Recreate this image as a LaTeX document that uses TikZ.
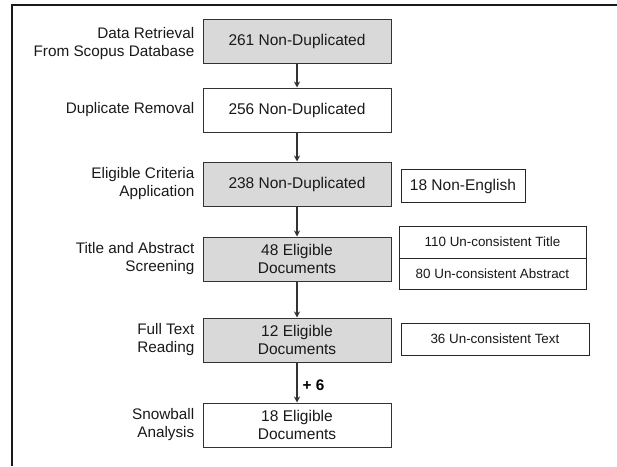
\documentclass[tikz,border=0pt]{standalone}
\usepackage{fontspec}
\setmainfont{Liberation Sans}
\usetikzlibrary{arrows.meta, positioning}
\tikzstyle{mainbox} = [rectangle, minimum width=188pt, minimum height=44pt, text centered, align=center, draw=black!80, line width=1pt, text=black!90, font=\fontsize{15.5}{18}\selectfont]
\tikzstyle{graybox} = [mainbox, fill=black!15]
\tikzstyle{whitebox} = [mainbox, fill=white]
\tikzstyle{sidebox} = [rectangle, minimum height=32pt, text centered, draw=black!85, line width=0.9pt, fill=white, text=black!90, font=\fontsize{13.4}{15}\selectfont]
\tikzstyle{steplabel} = [inner sep=0pt, align=right, text=black!90, font=\fontsize{15.3}{18}\selectfont]
\tikzstyle{arrow} = [line width=1.2pt, draw=black!80, -{Stealth[length=6pt, width=6pt]}]

\begin{document}
\begin{tikzpicture}[x=1pt, y=1pt]
        \useasboundingbox (0,0) rectangle (617,-466);
        % Frame
        \draw[line width=2pt, black!90] (617,-5) -| (12,-466);

        % Nodes
        \node (retrieval) [graybox] at (297,-41) {261 Non-Duplicated};
        \node (removal) [whitebox, below=24pt of retrieval] {256 Non-Duplicated};
        \node (criteria) [graybox, below=29pt of removal] {238 Non-Duplicated};
        \node (screening) [graybox, below=30pt of criteria] {48 Eligible\\Documents};
        \node (reading) [graybox, below=36pt of screening] {12 Eligible\\Documents};
        \node (snowball) [whitebox, below=40pt of reading] {18 Eligible\\Documents};

        % Excluded records
        \node (nonenglish) [sidebox, minimum width=124pt, minimum height=33pt, font=\fontsize{15.5}{18}\selectfont, right=9pt of criteria, yshift=-2pt] {18 Non-English};
        \node (title) [sidebox, minimum width=187pt, right=7pt of screening, yshift=17pt] {110 Un-consistent Title};
        \node (abstract) [sidebox, minimum width=187pt, minimum height=31pt, below=-0.3pt of title] {80 Un-consistent Abstract};
        \node (fulltext) [sidebox, minimum width=188pt, right=9pt of reading, yshift=1pt] {36 Un-consistent Text};

        % Arrows
        \draw [arrow] (retrieval) -- (removal);
        \draw [arrow] (removal) -- (criteria);
        \draw [arrow] (criteria) -- (screening);
        \draw [arrow] (screening) -- (reading);
        \draw [arrow] (reading) -- node[pos=0.58, right=5pt, inner sep=0pt, text=black, font=\fontsize{15.3}{18}\selectfont\bfseries] {+ 6} (snowball);

        % Labels for stages
        \node (lretrieval) [steplabel, left=8pt of retrieval, yshift=-3pt] {Data Retrieval\\From Scopus Database};
        \node (lremoval) [steplabel, left=8pt of removal] {Duplicate Removal};
        \node (lcriteria) [steplabel, left=8pt of criteria] {Eligible Criteria\\Application};
        \node (lscreening) [steplabel, left=8pt of screening] {Title and Abstract\\Screening};
        \node (lreading) [steplabel, left=8pt of reading] {Full Text\\Reading};
        \node (lsnowball) [steplabel, left=8pt of snowball] {Snowball\\Analysis};
\end{tikzpicture}
\end{document}
